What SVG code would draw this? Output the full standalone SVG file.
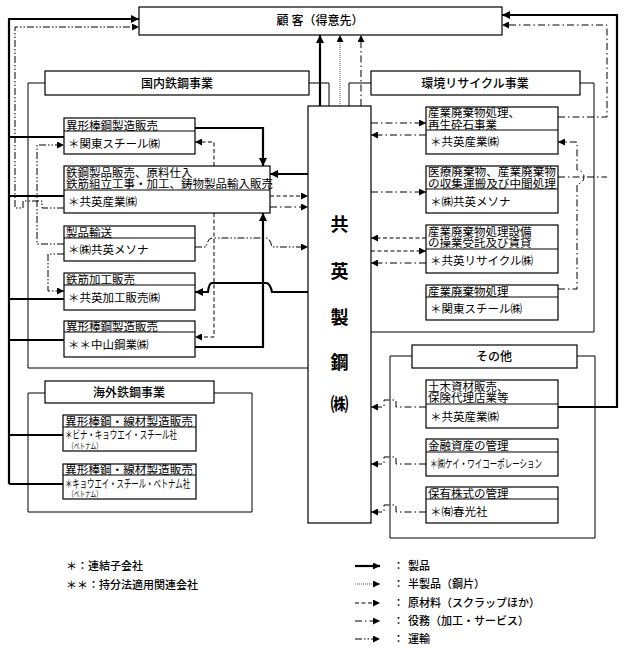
<svg xmlns="http://www.w3.org/2000/svg" width="625" height="652" viewBox="0 0 625 652">
<style>
.box{fill:#fff;stroke:#000;stroke-width:1.2}
.grp{fill:none;stroke:#000;stroke-width:1}
.dv{stroke:#000;stroke-width:1}
text{font-family:'Liberation Serif','Noto Sans CJK JP',serif;fill:#000}
.h{font-size:11.5px}
.c{font-size:11.5px}
.ti{font-size:12px;text-anchor:middle;font-weight:500}
.big{font-size:18px;font-weight:bold;text-anchor:middle}
.lg{font-size:11px;font-weight:500}
.prod{stroke:#000;stroke-width:2.2;fill:none}
.semi{stroke:#555;stroke-width:1;stroke-dasharray:1 1;fill:none}
.raw{stroke:#000;stroke-width:1;stroke-dasharray:4 2.5;fill:none}
.svc{stroke:#000;stroke-width:1;stroke-dasharray:7 3 1.5 3;fill:none}
.trn{stroke:#000;stroke-width:1;stroke-dasharray:7 2 1.5 2 1.5 2;fill:none}
</style>
<defs>
<marker id="a" markerUnits="userSpaceOnUse" markerWidth="7" markerHeight="7" refX="7" refY="3.5" orient="auto"><path d="M0,0 L7,3.5 L0,7 z" fill="#000"/></marker>
<marker id="ab" markerUnits="userSpaceOnUse" markerWidth="8" markerHeight="8" refX="8" refY="4" orient="auto"><path d="M0,0 L8,4 L0,8 z" fill="#000"/></marker>
</defs>

<g id="groups">
<path class="grp" d="M45,83 H28 V368 H308 M309,83 H329 V107"/>
<path class="grp" d="M371,83 H349 V107 M580,83 H594 V332 H371"/>
<path class="grp" d="M412,356 H390 V538 H595 V356 H577"/>
<path class="grp" d="M45,393 H28 V512 H252 V393 H214"/>
</g>

<g id="connectors">
<path class="prod" d="M9,484 V19 H139" marker-end="url(#ab)"/>
<path class="prod" d="M9,137 H64 M9,196 H64 M9,299 H64 M9,340 H64 M9,435 H63 M9,484 H63"/>
<path class="trn" d="M64,208 H42 V201 H23 V208 H15 V27 H139" marker-end="url(#a)"/>
<path class="trn" d="M64,244 H37 V145 H64" marker-end="url(#a)"/>
<path class="trn" d="M64,254 H48 V291 H64" marker-end="url(#a)"/>
<path class="prod" d="M195,128 H263 V166" marker-end="url(#ab)"/>
<path class="raw" d="M214,166 V142 H195" marker-end="url(#a)"/>
<path class="raw" d="M214,213 V337 H195" marker-end="url(#a)"/>
<path class="prod" d="M308,174 H270" marker-end="url(#ab)"/>
<path class="raw" d="M270,196 H308" marker-end="url(#a)"/>
<path class="svc" d="M270,207 H308" marker-end="url(#a)"/>
<path class="prod" d="M195,347 H263 V213" marker-end="url(#ab)"/>
<path class="trn" d="M195,247 H206 Q208,238 212,238 H266 Q270,238 272,247 H308" marker-end="url(#a)"/>
<path class="prod" d="M308,292 H272 Q270,283 266,283 H212 Q209,283 208,292 H195" marker-end="url(#ab)"/>
<path class="prod" d="M320,106 V35" marker-end="url(#ab)"/>
<path class="semi" d="M340,106 V35" marker-end="url(#a)"/>
<path class="svc" d="M361,106 V35" marker-end="url(#a)"/>
<path class="svc" d="M371,123 H426" marker-end="url(#a)"/>
<path class="svc" d="M426,135 H371" marker-end="url(#a)"/>
<path class="svc" d="M371,192 H426" marker-end="url(#a)"/>
<path class="raw" d="M426,238 H371" marker-end="url(#a)"/>
<path class="raw" d="M371,251 H426" marker-end="url(#a)"/>
<path class="svc" d="M426,263 H371" marker-end="url(#a)"/>
<path class="svc" d="M558,117 H607 V25 H502" marker-end="url(#a)"/>
<path class="svc" d="M558,177 H607"/>
<path class="svc" d="M558,289 H577 V184 A7,7 0 0 0 577,170 V142 H558" marker-end="url(#a)"/>
<path class="prod" d="M558,407 H617 V15 H502" marker-end="url(#ab)"/>
<path class="svc" d="M426,407 H396 V400 H384 V407 H371" marker-end="url(#a)"/>
<path class="svc" d="M426,464 H396 V457 H384 V464 H371" marker-end="url(#a)"/>
<path class="svc" d="M426,512 H396 V505 H384 V512 H371" marker-end="url(#a)"/>
</g>

<g id="customer">
<rect class="box" x="139" y="7" width="363" height="28"/>
<text class="ti" x="320" y="25">顧 客（得意先）</text>
</g>

<g id="title-domestic">
<rect class="box" x="45" y="71" width="264" height="24"/>
<text class="ti" x="177" y="88">国内鉄鋼事業</text>
</g>
<g id="title-env">
<rect class="box" x="371" y="71" width="209" height="24"/>
<text class="ti" x="475" y="88">環境リサイクル事業</text>
</g>
<g id="title-other">
<rect class="box" x="412" y="345" width="165" height="23"/>
<text class="ti" x="494" y="361">その他</text>
</g>
<g id="title-overseas">
<rect class="box" x="45" y="381" width="169" height="22"/>
<text class="ti" x="129" y="397">海外鉄鋼事業</text>
</g>

<g id="kyoei-steel">
<rect class="box" x="308" y="106" width="63" height="417"/>
<text class="big" x="339.5" y="231">共</text>
<text class="big" x="339.5" y="278">英</text>
<text class="big" x="339.5" y="324">製</text>
<text class="big" x="339.5" y="369">鋼</text>
<text class="big" x="339.5" y="411">㈱</text>
</g>

<g id="kanto-steel-1">
<rect class="box" x="64" y="118" width="131" height="36"/>
<line class="dv" x1="64" y1="131" x2="195" y2="131"/>
<text class="h" x="66" y="129.5">異形棒鋼製造販売</text>
<text class="c" x="68" y="148">＊関東スチール㈱</text>
</g>
<g id="kyoei-sangyo-1">
<rect class="box" x="64" y="166" width="206" height="47"/>
<line class="dv" x1="64" y1="190" x2="270" y2="190"/>
<text class="h" x="66" y="176.5">鉄鋼製品販売、原料仕入</text>
<text class="h" x="66" y="188">鉄筋組立工事・加工、鋳物製品輸入販売</text>
<text class="c" x="68" y="206">＊共英産業㈱</text>
</g>
<g id="kyoei-mesona-1">
<rect class="box" x="64" y="226" width="131" height="35"/>
<line class="dv" x1="64" y1="238" x2="195" y2="238"/>
<text class="h" x="66" y="236.5">製品輸送</text>
<text class="c" x="68" y="254">＊㈱共英メソナ</text>
</g>
<g id="kyoei-kakou">
<rect class="box" x="64" y="273" width="131" height="37"/>
<line class="dv" x1="64" y1="285" x2="195" y2="285"/>
<text class="h" x="66" y="283.5">鉄筋加工販売</text>
<text class="c" x="68" y="302">＊共英加工販売㈱</text>
</g>
<g id="nakayama">
<rect class="box" x="64" y="321" width="131" height="36"/>
<line class="dv" x1="64" y1="332" x2="195" y2="332"/>
<text class="h" x="66" y="331">異形棒鋼製造販売</text>
<text class="c" x="68" y="349">＊＊中山鋼業㈱</text>
</g>

<g id="kyoei-sangyo-2">
<rect class="box" x="426" y="107" width="132" height="47"/>
<line class="dv" x1="426" y1="130" x2="558" y2="130"/>
<text class="h" x="428" y="117">産業廃棄物処理、</text>
<text class="h" x="428" y="128.5">再生砕石事業</text>
<text class="c" x="430" y="146">＊共英産業㈱</text>
</g>
<g id="kyoei-mesona-2">
<rect class="box" x="426" y="166" width="132" height="47"/>
<line class="dv" x1="426" y1="189" x2="558" y2="189"/>
<text class="h" x="428" y="176" textLength="128" lengthAdjust="spacingAndGlyphs">医療廃棄物、産業廃棄物</text>
<text class="h" x="428" y="187.5" textLength="128" lengthAdjust="spacingAndGlyphs">の収集運搬及び中間処理</text>
<text class="c" x="430" y="206">＊㈱共英メソナ</text>
</g>
<g id="kyoei-recycle">
<rect class="box" x="426" y="225" width="132" height="48"/>
<line class="dv" x1="426" y1="249" x2="558" y2="249"/>
<text class="h" x="428" y="235.5">産業廃棄物処理設備</text>
<text class="h" x="428" y="247">の操業受託及び賃貸</text>
<text class="c" x="430" y="265">＊共英リサイクル㈱</text>
</g>
<g id="kanto-steel-2">
<rect class="box" x="426" y="285" width="132" height="35"/>
<line class="dv" x1="426" y1="297" x2="558" y2="297"/>
<text class="h" x="428" y="295.5">産業廃棄物処理</text>
<text class="c" x="430" y="313">＊関東スチール㈱</text>
</g>

<g id="kyoei-sangyo-3">
<rect class="box" x="426" y="380" width="132" height="48"/>
<line class="dv" x1="426" y1="404" x2="558" y2="404"/>
<text class="h" x="428" y="390.5">土木資材販売、</text>
<text class="h" x="428" y="402">保険代理店業等</text>
<text class="c" x="430" y="421">＊共英産業㈱</text>
</g>
<g id="ky-corporation">
<rect class="box" x="426" y="439" width="132" height="37"/>
<line class="dv" x1="426" y1="452" x2="558" y2="452"/>
<text class="h" x="428" y="450">金融資産の管理</text>
<text class="c" x="430" y="468" textLength="112" lengthAdjust="spacingAndGlyphs">＊㈱ケイ・ワイコーポレーション</text>
</g>
<g id="shunkosha">
<rect class="box" x="426" y="487" width="132" height="36"/>
<line class="dv" x1="426" y1="499" x2="558" y2="499"/>
<text class="h" x="428" y="497.5">保有株式の管理</text>
<text class="c" x="430" y="516">＊㈲春光社</text>
</g>

<g id="vina-kyoei">
<rect class="box" x="63" y="415" width="133" height="36"/>
<line class="dv" x1="63" y1="427" x2="196" y2="427"/>
<text class="h" x="65" y="425.5" textLength="128" lengthAdjust="spacingAndGlyphs">異形棒鋼・線材製造販売</text>
<text class="c" x="65" y="439" font-size="12" textLength="112" lengthAdjust="spacingAndGlyphs">＊ビナ・キョウエイ・スチール社</text>
<text x="68" y="448.5" font-size="8" textLength="34" lengthAdjust="spacingAndGlyphs">（ベトナム）</text>
</g>
<g id="kyoei-vietnam">
<rect class="box" x="63" y="464" width="133" height="35"/>
<line class="dv" x1="63" y1="475" x2="196" y2="475"/>
<text class="h" x="65" y="474" textLength="128" lengthAdjust="spacingAndGlyphs">異形棒鋼・線材製造販売</text>
<text class="c" x="65" y="487.5" textLength="125" lengthAdjust="spacingAndGlyphs">＊キョウエイ・スチール・ベトナム社</text>
<text x="68" y="497" font-size="8" textLength="34" lengthAdjust="spacingAndGlyphs">（ベトナム）</text>
</g>

<g id="legend">
<text class="lg" x="66" y="570">＊：連結子会社</text>
<text class="lg" x="66" y="589">＊＊：持分法適用関連会社</text>
<path class="prod" d="M355,566 H380" marker-end="url(#a)"/>
<path class="semi" d="M355,584 H380" marker-end="url(#a)"/>
<path class="raw" d="M355,603 H380" marker-end="url(#a)"/>
<path class="svc" d="M355,621 H380" marker-end="url(#a)"/>
<path class="trn" d="M355,639 H380" marker-end="url(#a)"/>
<text class="lg" x="393" y="570">：</text>
<text class="lg" x="393" y="588">：</text>
<text class="lg" x="393" y="607">：</text>
<text class="lg" x="393" y="625">：</text>
<text class="lg" x="393" y="643">：</text>
<text class="lg" x="408" y="570">製品</text>
<text class="lg" x="408" y="588">半製品（鋼片）</text>
<text class="lg" x="408" y="607">原材料（スクラップほか）</text>
<text class="lg" x="408" y="625">役務（加工・サービス）</text>
<text class="lg" x="408" y="643">運輸</text>
</g>
</svg>
